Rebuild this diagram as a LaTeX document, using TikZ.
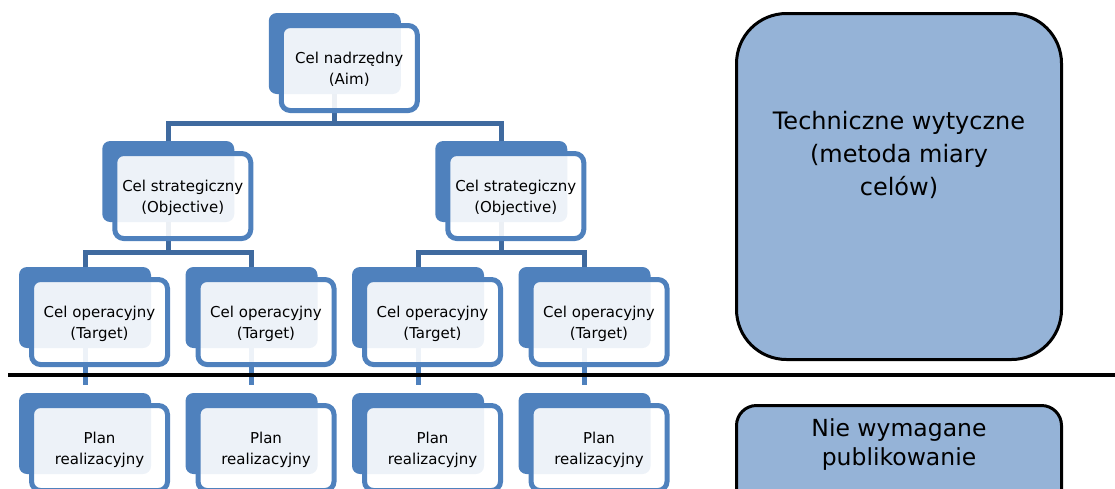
\documentclass[tikz,border=0pt]{standalone}
\usepackage{fontspec}
\setmainfont{DejaVu Sans}
\usetikzlibrary{calc}

\definecolor{accent}{HTML}{4F81BD}
\definecolor{linkdark}{HTML}{3F6A9F}
\definecolor{panel}{HTML}{95B3D7}

\tikzset{
  backcard/.style={draw=none, fill=accent, rounded corners=8pt,
    minimum width=132pt, minimum height=81pt, inner sep=0pt, outer sep=0pt},
  frontcard/.style={draw=accent, line width=5pt, fill=white, fill opacity=0.9,
    text opacity=1, rounded corners=9pt, minimum width=136pt, minimum height=85pt,
    inner sep=0pt},
  cardtext/.style={align=center, inner sep=0pt, yshift=-1.5pt,
    font=\fontsize{15}{21}\selectfont},
  link/.style={draw=linkdark, line width=5pt},
  sublink/.style={draw=accent, line width=5pt, shorten >=8pt},
  separator/.style={draw=black, line width=4.5pt},
  panelbox/.style={draw=black, line width=3pt, fill=panel, inner sep=0pt},
  paneltext/.style={align=center, inner sep=0pt}
}

\begin{document}
\begin{tikzpicture}[x=1pt,y=-1pt]
\useasboundingbox (0,0) rectangle (1115,488);
\clip (0,0) rectangle (1115,488);

% solid back cards of the hierarchy
\node[backcard] (aim-b) at (334.75,53.5) {};
\node[backcard] (s1-b) at (168.25,181.5) {};
\node[backcard] (s2-b) at (501.25,181.5) {};
\node[backcard] (t1-b) at (85,307.5) {};
\node[backcard] (t2-b) at (251.5,307.5) {};
\node[backcard] (t3-b) at (418,307.5) {};
\node[backcard] (t4-b) at (584.5,307.5) {};
\node[backcard] (p1-b) at (85,433.5) {};
\node[backcard] (p2-b) at (251.5,433.5) {};
\node[backcard] (p3-b) at (418,433.5) {};
\node[backcard] (p4-b) at (584.5,433.5) {};

% levels of the horizontal bars
\coordinate (bar1) at (0,123);
\coordinate (bar2) at (0,252);

% connectors: aim -> strategic
\draw[link] (aim-b.south) -- (aim-b.south |- bar1);
\draw[link] (s1-b.north) |- (aim-b.south |- bar1) -| (s2-b.north);

% connectors: strategic -> operational
\draw[link] (s1-b.south) -- (s1-b.south |- bar2);
\draw[link] (t1-b.north) |- (s1-b.south |- bar2) -| (t2-b.north);
\draw[link] (s2-b.south) -- (s2-b.south |- bar2);
\draw[link] (t3-b.north) |- (s2-b.south |- bar2) -| (t4-b.north);

% connectors: operational -> plans
\draw[sublink] (t1-b.south) -- (p1-b.north);
\draw[sublink] (t2-b.south) -- (p2-b.north);
\draw[sublink] (t3-b.south) -- (p3-b.north);
\draw[sublink] (t4-b.south) -- (p4-b.north);

% translucent front cards with the labels
\node[frontcard, label={[cardtext]center:{Cel nadrzędny\\(Aim)}}] (aim) at (349.25,68) {};
\node[frontcard, label={[cardtext]center:{Cel strategiczny\\(Objective)}}] (s1) at (182.75,196) {};
\node[frontcard, label={[cardtext]center:{Cel strategiczny\\(Objective)}}] (s2) at (515.75,196) {};
\node[frontcard, label={[cardtext]center:{Cel operacyjny\\(Target)}}] (t1) at (99.5,322) {};
\node[frontcard, label={[cardtext]center:{Cel operacyjny\\(Target)}}] (t2) at (266,322) {};
\node[frontcard, label={[cardtext]center:{Cel operacyjny\\(Target)}}] (t3) at (432.5,322) {};
\node[frontcard, label={[cardtext]center:{Cel operacyjny\\(Target)}}] (t4) at (599,322) {};
\node[frontcard, label={[cardtext]center:{Plan\\realizacyjny}}] (p1) at (99.5,448) {};
\node[frontcard, label={[cardtext]center:{Plan\\realizacyjny}}] (p2) at (266,448) {};
\node[frontcard, label={[cardtext]center:{Plan\\realizacyjny}}] (p3) at (432.5,448) {};
\node[frontcard, label={[cardtext]center:{Plan\\realizacyjny}}] (p4) at (599,448) {};

% dividing line between published and unpublished levels
\coordinate (sepL) at (8,375);
\coordinate (sepR) at (1115,375);
\draw[separator] (sepL) -- (sepR);

% side panels
\node[panelbox, rounded corners=50pt, minimum width=325pt, minimum height=346pt]
  (tech) at (899,186.5) {};
\node[paneltext, font=\fontsize{24}{33}\selectfont] (tech-t) at (899,155)
  {Techniczne wytyczne\\(metoda miary\\celów)};

\node[panelbox, rounded corners=20pt, minimum width=325pt, minimum height=120pt]
  (pub) at (899,465.5) {};
\node[paneltext, font=\fontsize{23.5}{29}\selectfont] (pub-t) at (899,444.5)
  {Nie wymagane\\publikowanie};
\end{tikzpicture}
\end{document}
